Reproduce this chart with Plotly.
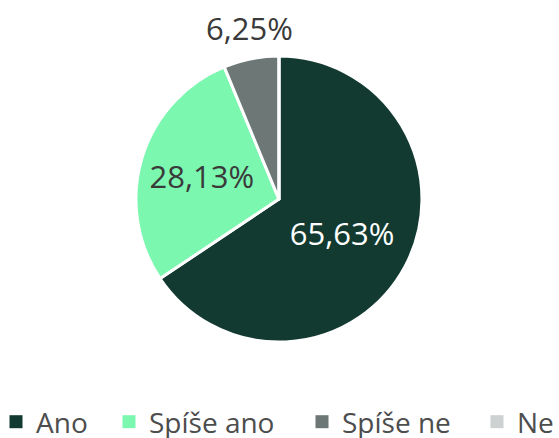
import math
import plotly.graph_objects as go

labels = ["Ano", "Spíše ano", "Spíše ne", "Ne"]
values = [65.63, 28.13, 6.25, 0.0]
colors = ["#133a30", "#7bf7b0", "#6d7776", "#cdd1d1"]
text_colors = ["#ffffff", "#3a3a3a", "#3a3a3a", "#3a3a3a"]
label_inside = [True, True, False, False]

FONT = "Open Sans"
W, H = 559, 438
DOM_X = [0.243, 0.755]
DOM_Y = [0.219, 0.872]

# legend entry text start positions (px from left)
legend_text_x = [37, 150, 343, 518]

def fmt(v):
    return f"{v:.2f}".replace(".", ",") + "%"

fig = go.Figure()
fig.add_trace(go.Pie(
    labels=labels,
    values=values,
    sort=False,
    direction="clockwise",
    rotation=0,
    marker=dict(colors=colors, line=dict(color="#ffffff", width=3)),
    texttemplate=["%{value:.2f}%" if (v > 0 and ins) else "" for v, ins in zip(values, label_inside)],
    textposition="inside",
    insidetextorientation="horizontal",
    textfont=dict(size=31, color=text_colors, family=FONT),
    domain=dict(x=DOM_X, y=DOM_Y),
    hoverinfo="label+value",
    showlegend=False,
))

# outside labels for small slices, placed along the slice mid-angle
total = sum(values)
cx = (DOM_X[0] + DOM_X[1]) / 2
cy = (DOM_Y[0] + DOM_Y[1]) / 2
R = min((DOM_X[1] - DOM_X[0]) * W, (DOM_Y[1] - DOM_Y[0]) * H) / 2
cum = 0.0
for v, ins in zip(values, label_inside):
    mid = (cum + v / 2) / total * 2 * math.pi
    cum += v
    if v > 0 and not ins:
        d = R + 8
        fig.add_annotation(
            x=cx + d * math.sin(mid) / W, y=cy + d * math.cos(mid) / H,
            xref="paper", yref="paper", xanchor="center", yanchor="bottom",
            text=fmt(v), showarrow=False,
            font=dict(size=31, color="#3a3a3a", family=FONT),
        )

legend_layouts = {}
for i, (lab, col) in enumerate(zip(labels, colors)):
    lname = "legend" if i == 0 else f"legend{i+1}"
    fig.add_trace(go.Scatter(
        x=[None], y=[None], mode="markers", name=lab,
        marker=dict(symbol="square", size=13, color=col),
        legend=lname, showlegend=True, hoverinfo="skip",
    ))
    legend_layouts[lname] = dict(
        orientation="h",
        x=(legend_text_x[i] - 41) / W, xanchor="left",
        y=(H - 422) / H, yanchor="middle",
        font=dict(size=28, color="#4d4d4d", family=FONT),
        itemwidth=30,
        bgcolor="rgba(0,0,0,0)",
    )

fig.update_layout(
    width=W, height=H,
    margin=dict(l=0, r=0, t=0, b=0, autoexpand=False),
    paper_bgcolor="#ffffff",
    plot_bgcolor="#ffffff",
    separators=", ",
    font=dict(family=FONT, color="#4d4d4d"),
    xaxis=dict(visible=False),
    yaxis=dict(visible=False),
    **legend_layouts,
)

fig.write_html(
    "out.html",
    config={"displayModeBar": False},
    post_script="document.body.style.margin='0';",
)
